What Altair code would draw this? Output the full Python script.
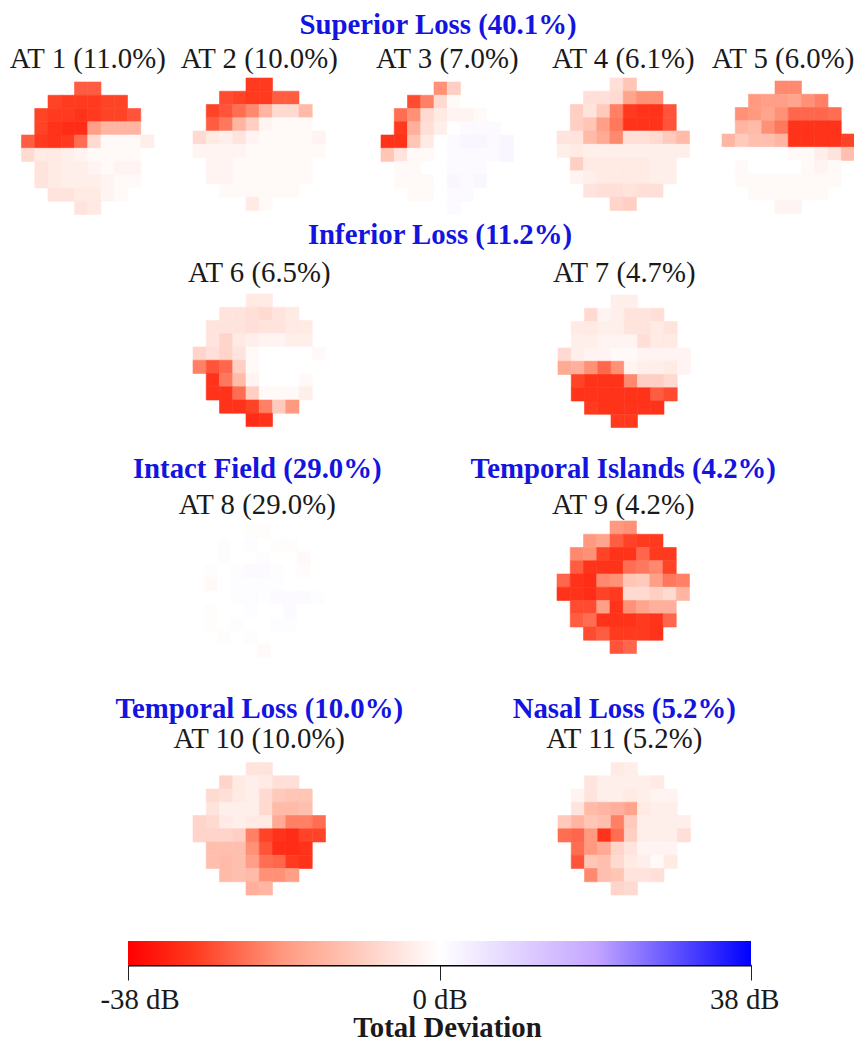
import altair as alt
import pandas as pd

# Row lengths of the visual-field grid (centred in a 10-column grid)
ROW_WIDTHS = [2, 6, 8, 8, 10, 10, 8, 8, 6, 2]

AT1 = [[-26,-26],[-29,-30,-30,-30,-29,-29],[-29,-30,-30,-31,-30,-29,-29,-27],[-29,-31,-32,-32,-18,-14,-14,-14],
       [-26,-30,-31,-30,-24,-7,-1,-1,-1,-3],[-7,-4,-4,-3,-2,-1,-1,-1,-1,0],[-5,-4,-3,-3,-2,-1,-2,-2],
       [-5,-4,-3,-3,-3,-2,-1,-1],[-5,-5,-4,-4,-2,-1],[-5,-4]]
AT2 = [[-30,-30],[-28,-29,-30,-30,-26,-26],[-29,-27,-24,-21,-14,-7,-7,-13],[-26,-23,-14,-9,-2,-1,-1,-1],
       [-7,-4,-3,-5,-2,-1,-1,-1,-1,-2],[-2,-2,-2,-2,-1,-1,-1,-1,-1,-1],[-2,-2,-1,-1,-1,-1,-1,-1],
       [-2,-2,-1,-1,-1,-1,-1,-1],[-1,-1,-1,-1,-1,-1],[-4,-1]]
AT3 = [[-20,-9],[-28,-22,-7,-1,0,0],[-24,-20,-7,-4,-2,-2,-1,0],[-30,-15,-6,-3,0,1,1,1],
       [-31,-31,-11,-4,0,1,2,2,1,2],[-11,-5,-1,-1,0,1,1,1,1,2],[-1,-1,0,0,1,1,1,0],
       [-1,-1,-1,0,2,1,2,0],[-1,-1,0,1,1,0],[0,1]]
AT4 = [[-6,-11],[-6,-6,-7,-17,-20,-20],[-9,-5,-10,-22,-30,-31,-31,-27],[-9,-11,-18,-23,-31,-31,-31,-27],
       [-5,-5,-13,-16,-21,-6,-6,-7,-10,-13],[-3,-4,-3,-3,-3,-3,-3,-3,-3,-3],[-9,-4,-4,-4,-4,-4,-3,-3],
       [-2,-3,-4,-4,-4,-4,-3,-3],[-5,-6,-6,-5,-6,-6],[-8,-9]]
AT5 = [[-21,-21],[-19,-18,-18,-17,-20,-22],[-20,-19,-17,-20,-25,-25,-25,-24],[-14,-13,-20,-23,-31,-31,-31,-31],
       [-14,-10,-12,-12,-14,-31,-31,-31,-31,-29],[0,0,0,0,0,-1,-1,-3,-5,-12],[-1,0,0,0,0,-1,-2,-1],
       [-1,-1,-1,-1,-1,-1,-1,-1],[-1,-1,-1,-1,-1,-1],[-2,-2]]
AT6 = [[-4,-4],[-5,-5,-6,-7,-5,-4],[-5,-5,-5,-6,-5,-5,-4,-4],[-5,-8,-4,-3,-2,-2,-3,-3],
       [-8,-6,-8,-5,-1,0,0,0,0,-1],[-22,-27,-25,-9,-1,0,0,0,0,0],[-31,-23,-13,-2,0,0,0,-1],
       [-31,-31,-24,-9,-1,-1,-1,-3],[-31,-31,-29,-22,-10,-19],[-32,-31]]
AT7 = [[-3,-3],[-7,-2,-3,-5,-5,-6],[-4,-4,-3,-3,-5,-5,-4,-5],[-3,-3,-2,-2,-2,-6,-4,-4],
       [-7,-3,-2,-2,-1,-1,-2,-2,-2,-2],[-16,-15,-20,-25,-20,-2,-3,-3,-4,-2],[-29,-31,-31,-31,-21,-9,-9,-7],
       [-31,-31,-31,-31,-31,-31,-26,-28],[-30,-31,-31,-31,-31,-31],[-30,-30]]
AT8 = [[-.5,-.5],[-.5,0,.5,0,-.5,-.5],[0,.5,0,0,.5,0,0,-1],[-.5,0,.5,1,1,.5,0,-.5],
       [0,-1,0,.5,.5,.5,.5,0,0,0],[0,0,0,.5,.5,.5,1,1,1,.5],[-.5,0,0,.5,0,0,1,0],
       [-.5,0,.5,0,0,.5,.5,0],[-.5,0,-.5,0,0,0],[0,-1]]
AT9 = [[-19,-20],[-19,-17,-26,-29,-30,-30],[-21,-20,-29,-31,-31,-25,-30,-30],[-26,-31,-31,-31,-24,-23,-21,-29],
       [-25,-31,-32,-21,-20,-11,-10,-18,-23,-22],[-31,-31,-32,-29,-30,-7,-7,-9,-7,-14],[-28,-28,-18,-31,-20,-17,-15,-15],
       [-26,-24,-31,-31,-31,-30,-31,-25],[-28,-26,-30,-30,-30,-31],[-27,-25]]
AT10 = [[-5,-5],[-8,-4,-3,-4,-6,-6],[-7,-6,-4,-3,-7,-10,-11,-11],[-5,-3,-3,-3,-7,-13,-13,-12],
        [-8,-7,-4,-3,-4,-4,-16,-22,-22,-24],[-8,-8,-8,-9,-22,-29,-31,-32,-29,-29],[-12,-12,-12,-20,-27,-32,-32,-31],
        [-12,-13,-12,-18,-24,-25,-30,-31],[-13,-12,-13,-20,-20,-18],[-15,-14]]
AT11 = [[-4,-3],[-5,-3,-3,-3,-3,-4],[-2,-5,-3,-3,-4,-3,-2,-2],[-5,-13,-14,-15,-17,-4,-3,-3],
        [-10,-14,-11,-12,-22,-10,-3,-3,-3,-3],[-24,-25,-19,-31,-24,-9,-3,-3,-3,-6],[-24,-19,-16,-8,-5,-2,-2,-2],
        [-27,-11,-12,-7,-4,-3,-1,-4],[-21,-12,-11,-5,-5,-6],[-8,-7]]

TITLES = ["AT 1 (11.0%)", "AT 2 (10.0%)", "AT 3 (7.0%)", "AT 4 (6.1%)", "AT 5 (6.0%)", "AT 6 (6.5%)",
          "AT 7 (4.7%)", "AT 8 (29.0%)", "AT 9 (4.2%)", "AT 10 (10.0%)", "AT 11 (5.2%)"]
GROUPS = ["Superior Loss (40.1%)", "Inferior Loss (11.2%)", "Intact Field (29.0%)",
          "Temporal Islands (4.2%)", "Temporal Loss (10.0%)", "Nasal Loss (5.2%)"]
BAR_TICKS = [-38, 0, 38]

# Layout
CELL = 13.25
SERIF = "Liberation Serif"
SIZE = 28.8
BLUE = "#1414e0"
COLOR_DOMAIN = [-38, -30, -19, 0, 19, 38]
COLOR_RANGE = ["#ff0000", "#ff3a1e", "#ff9a80", "#ffffff", "#c4a6ff", "#0000ff"]
color_scale = alt.Scale(domain=COLOR_DOMAIN, range=COLOR_RANGE, interpolate="rgb")


def cells(rows):
    out = []
    for r, (vals, n) in enumerate(zip(rows, ROW_WIDTHS)):
        start = (10 - n) // 2
        for i, v in enumerate(vals):
            out.append({"c": start + i, "c2": start + i + 1, "r": r, "r2": r + 1, "v": v})
    return pd.DataFrame(out)


def text_layer(txt, x, y, bold=False):
    return (alt.Chart(pd.DataFrame({"t": [txt]}))
            .mark_text(font=SERIF, fontSize=SIZE, fontWeight="bold" if bold else "normal",
                       color=BLUE if bold else "#1a1a1a", align="center", baseline="middle")
            .encode(x=x, y=alt.value(y), text="t:N"))


def panel(rows, title, w, h, left, top, title_y, group=None, group_y=0, title_x=5):
    xs = alt.Scale(domain=[-left / CELL, (w - left) / CELL], nice=False, zero=False)
    ys = alt.Scale(domain=[-top / CELL, (h - top) / CELL], nice=False, zero=False, reverse=True)
    rect = (alt.Chart(cells(rows)).mark_rect(strokeWidth=0.6)
            .encode(x=alt.X("c:Q", scale=xs, axis=None), x2="c2:Q",
                    y=alt.Y("r:Q", scale=ys, axis=None), y2="r2:Q",
                    color=alt.Color("v:Q", scale=color_scale, legend=None),
                    stroke=alt.Stroke("v:Q", scale=color_scale, legend=None)))
    layers = [rect, text_layer(title, alt.datum(title_x), title_y)]
    if group:
        layers.append(text_layer(group, alt.datum(5), group_y, bold=True))
    return alt.layer(*layers).properties(width=w, height=h)


def header(txt, w, h, x, y):
    return text_layer(txt, alt.value(x), y, bold=True).properties(width=w, height=h)


def row(*charts):
    return alt.hconcat(*charts, spacing=0, bounds="flush")


band1 = header(GROUPS[0], 846, 34, 430, 17)
band2 = row(panel(AT1, TITLES[0], 165, 176, 13.5, 40, 17),
            panel(AT2, TITLES[1], 175, 176, 20, 36, 17),
            panel(AT3, TITLES[2], 190, 176, 33, 40, 17),
            panel(AT4, TITLES[3], 170, 176, 19, 36, 17),
            panel(AT5, TITLES[4], 146, 176, 14, 39, 17, title_x=4.6))
band3 = header(GROUPS[1], 846, 36, 432, 17)
band4 = row(panel(AT6, TITLES[5], 432, 186, 185, 40, 19),
            panel(AT7, TITLES[6], 414, 186, 118, 41, 19))
band5 = row(panel(AT8, TITLES[7], 432, 240, 183, 85, 65, GROUPS[2], 29),
            panel(AT9, TITLES[8], 414, 240, 117, 81, 65, GROUPS[3], 29))
band6 = row(panel(AT10, TITLES[9], 432, 258, 185, 82.5, 59, GROUPS[4], 29),
            panel(AT11, TITLES[10], 414, 258, 118, 82.5, 59, GROUPS[5], 29))

# Colour bar
gradient = alt.Gradient(gradient="linear", x1=0, x2=1, y1=0, y2=0,
                        stops=[alt.GradientStop(color=c, offset=(d + 38) / 76)
                               for c, d in zip(COLOR_RANGE, COLOR_DOMAIN)])
bar = (alt.Chart(pd.DataFrame({"a": [BAR_TICKS[0]], "b": [BAR_TICKS[-1]]}))
       .mark_rect(color=gradient)
       .encode(x=alt.X("a:Q", scale=alt.Scale(domain=[-38, 38], nice=False, zero=False),
                       axis=alt.Axis(values=BAR_TICKS, title="Total Deviation", labelExpr="datum.value + ' dB'",
                                     grid=False, domain=True, domainColor="#000000", domainWidth=2,
                                     tickColor="#222222", tickSize=15, tickWidth=1,
                                     labelFont=SERIF, labelFontSize=SIZE, labelColor="#1a1a1a", labelPadding=5,
                                     labelFlush=True, labelFlushOffset=28,
                                     titleFont=SERIF, titleFontSize=SIZE, titleFontWeight="bold",
                                     titleColor="#1a1a1a", titleX=319, titleY=62, titleBaseline="middle")),
               x2="b:Q")
       .properties(width=623, height=24))
spacer = (alt.Chart(pd.DataFrame({"a": [0]})).mark_point(opacity=0)
          .encode(x=alt.X("a:Q", axis=None), y=alt.value(0)).properties(width=120, height=24))
band7 = row(spacer, bar)

chart = (alt.vconcat(band1, band2, band3, band4, band5, band6, band7, spacing=0)
         .properties(autosize=alt.AutoSizeParams(type="none"),
                     padding={"left": 0, "top": 0, "right": 846, "bottom": 1034})
         .configure_view(stroke=None)
         .resolve_scale(color="shared"))

chart.save("out.html", embed_options={"renderer": "svg", "actions": False})
